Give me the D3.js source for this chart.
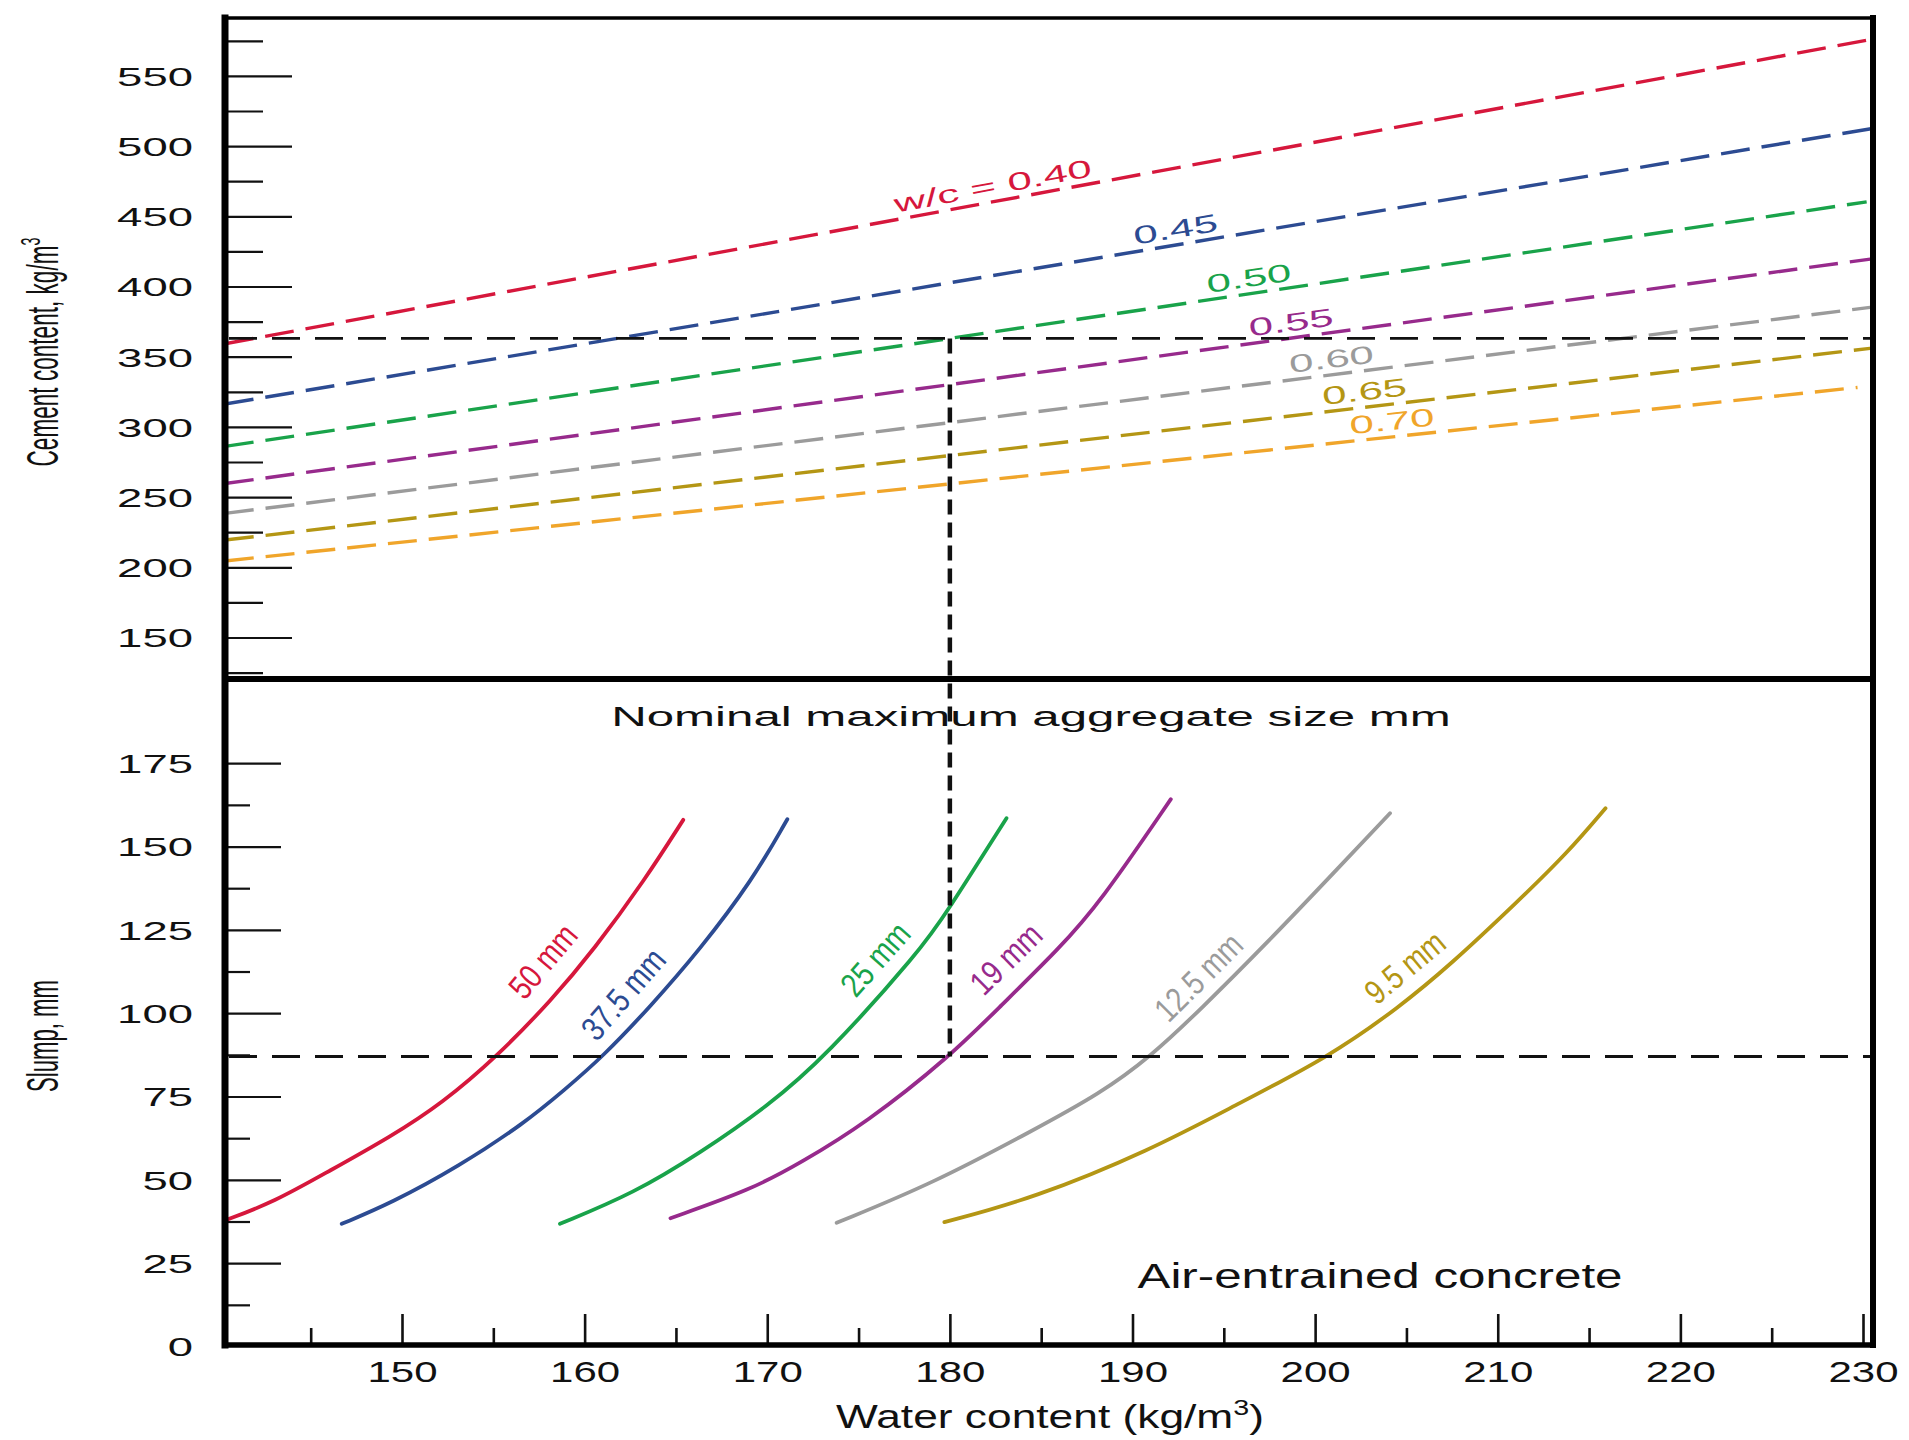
<!DOCTYPE html>
<html>
<head>
<meta charset="utf-8">
<title>Cement content and slump vs water content</title>
<script src="https://cdn.jsdelivr.net/npm/d3@7"></script>
<style>
  html, body { margin: 0; padding: 0; background: #fff; }
  svg { display: block; }
</style>
</head>
<body>
<div id="chart"></div>
<script>
// ---- data ----

// upper panel: w/c ratio lines (cement vs water), read at both ends
const wcLabels = ['w/c = 0.40', '0.45', '0.50', '0.55', '0.60', '0.65', '0.70'];
const wcWaterStart = [140.3, 140.3, 140.3, 140.3, 140.3, 140.3, 140.3];
const wcWaterEnd = [230.5, 230.5, 230.2, 230.5, 230.5, 230.5, 229.7];
const wcCementStart = [359.2, 316.3, 286.1, 259.7, 238.4, 219.4, 204.5];
const wcCementEnd = [576.1, 512.5, 460.3, 419.7, 385.3, 356.1, 328.1];
const wcLabelWater = [182.5, 192.5, 196.5, 198.8, 201.0, 202.8, 204.3];

// lower panel: slump curves per nominal maximum aggregate size
const aggLabels = ['50 mm', '37.5 mm', '25 mm', '19 mm', '12.5 mm', '9.5 mm'];
const water50 = [140.4, 143.0, 145.8, 149.4, 152.2, 155.2, 158.2, 160.5, 163.3, 165.4];
const slump50 = [38.0, 43.4, 52.0, 63.0, 73.0, 87.0, 104.0, 119.0, 140.0, 158.0];
const water375 = [146.7, 149.4, 153.1, 156.7, 158.9, 161.0, 163.6, 166.3, 169.2, 171.1];
const slump375 = [36.8, 43.0, 54.0, 67.0, 77.0, 87.0, 102.0, 119.0, 140.0, 158.2];
const water25 = [158.65, 162.7, 166.3, 170.0, 173.2, 178.4, 179.8, 183.1];
const slump25 = [36.8, 46.0, 58.0, 72.0, 87.0, 119.0, 130.0, 158.5];
const water19 = [164.7, 169.1, 171.8, 175.4, 180.0, 182.75, 186.0, 188.2, 192.1];
const slump19 = [38.5, 47.0, 55.0, 67.0, 87.0, 102.0, 119.5, 133.0, 164.2];
const water125 = [173.8, 179.1, 184.6, 188.2, 191.0, 193.7, 197.35, 201.0, 204.1];
const slump125 = [37.1, 49.0, 65.0, 75.8, 87.0, 101.0, 121.0, 142.0, 160.0];
const water95 = [179.7, 184.6, 191.0, 195.5, 200.8, 204.65, 207.4, 211.0, 213.8, 215.9];
const slump95 = [37.3, 44.5, 59.0, 72.0, 87.0, 102.0, 114.5, 133.0, 148.0, 161.5];
const aggLabelWater = [157.7, 162.1, 175.9, 183.05, 193.6, 204.9];
const aggLabelSlump = [115.7, 105.8, 116.3, 116.4, 110.9, 113.9];

// worked example (dashed black guide lines)
const refWater = 180;
const refCement = 363;
const refSlump = 87;

// ticks
const cementTicks = [150, 200, 250, 300, 350, 400, 450, 500, 550];
const cementMinorTicks = [125, 175, 225, 275, 325, 375, 425, 475, 525, 575];
const slumpTicks = [0, 25, 50, 75, 100, 125, 150, 175];
const slumpMinorTicks = [12.5, 37.5, 62.5, 87.5, 112.5, 137.5, 162.5];
const waterTicks = [150, 160, 170, 180, 190, 200, 210, 220, 230];
const waterMinorTicks = [145, 155, 165, 175, 185, 195, 205, 215, 225];

// ---- styles ----
const wcColors = ['#d6173c', '#2c4b92', '#19a34a', '#972a8c', '#9b9b9b', '#b49614', '#f0a52a'];
const aggColors = ['#d6173c', '#2c4b92', '#19a34a', '#972a8c', '#9b9b9b', '#b49614'];
const FONT = '"Liberation Sans", Arial, Helvetica, sans-serif';
const WIDE = 1.75; // extended look of the numeric labels

const W = 1909, H = 1440;
const frame = { left: 225, right: 1873, top: 18, mid: 679, bottom: 1345 };

const x = d3.scaleLinear().domain([150, 230]).range([402, 1863]);
const yTop = d3.scaleLinear().domain([150, 550]).range([637.5, 75.9]);
const yBot = d3.scaleLinear().domain([0, 175]).range([1346.5, 763.2]);

const svg = d3.select('#chart')
    .append('svg')
    .attr('width', W)
    .attr('height', H)
    .attr('viewBox', [0, 0, W, H]);

svg.append('rect').attr('width', W).attr('height', H).attr('fill', '#fff');

/**
 * Draw an axis, keep only its tick lines
 */
function tickMarks(g, axis, width) {
    g.call(axis);
    g.select('.domain').remove();
    g.selectAll('.tick text').remove();
    g.selectAll('.tick line').attr('stroke', '#111').attr('stroke-width', width);
}

/**
 * Draw an axis, keep only its labels (stretched wide)
 */
function tickLabels(g, axis, size, stretch, dy) {
    g.call(axis);
    g.select('.domain').remove();
    g.selectAll('.tick line').remove();
    g.selectAll('.tick text')
        .attr('font-family', FONT)
        .attr('font-size', size)
        .attr('fill', '#111')
        .attr('dy', dy)
        .attr('transform', `scale(${stretch},1)`);
}

/**
 * Stretch a text node horizontally (in its own frame) to a given width
 */
function stretchTo(text, width) {
    const w = text.node().getBBox().width;
    text.attr('transform', `scale(${width / w},1)`);
}

// ---- ticks ----
tickMarks(svg.append('g').attr('transform', `translate(${frame.left},0)`),
    d3.axisRight(yTop).tickValues(cementTicks).tickSize(67).tickFormat(''), 2.2);
tickMarks(svg.append('g').attr('transform', `translate(${frame.left},0)`),
    d3.axisRight(yTop).tickValues(cementMinorTicks).tickSize(38).tickFormat(''), 2.2);
tickMarks(svg.append('g').attr('transform', `translate(${frame.left},0)`),
    d3.axisRight(yBot).tickValues(slumpTicks.filter(d => d > 0)).tickSize(56).tickFormat(''), 2.2);
tickMarks(svg.append('g').attr('transform', `translate(${frame.left},0)`),
    d3.axisRight(yBot).tickValues(slumpMinorTicks).tickSize(25).tickFormat(''), 2.2);
tickMarks(svg.append('g').attr('transform', `translate(0,${frame.bottom})`),
    d3.axisBottom(x).tickValues(waterTicks).tickSizeInner(-31).tickSizeOuter(0).tickFormat(''), 2.6);
tickMarks(svg.append('g').attr('transform', `translate(0,${frame.bottom})`),
    d3.axisBottom(x).tickValues(waterMinorTicks).tickSizeInner(-17).tickSizeOuter(0).tickFormat(''), 2.6);

// ---- tick labels ----
tickLabels(svg.append('g').attr('transform', 'translate(193,0)'),
    d3.axisLeft(yTop).tickValues(cementTicks).tickSize(0).tickPadding(0), 26, WIDE, '0.36em');
tickLabels(svg.append('g').attr('transform', 'translate(193,0)'),
    d3.axisLeft(yBot).tickValues(slumpTicks).tickSize(0).tickPadding(0), 26, WIDE, '0.36em');
tickLabels(svg.append('g').attr('transform', `translate(0,${frame.bottom})`),
    d3.axisBottom(x).tickValues(waterTicks).tickSize(0).tickPadding(16), 30, 1.4, '0.71em');

// ---- upper panel: w/c lines ----
svg.append('clipPath').attr('id', 'clip-top')
    .append('rect')
    .attr('x', frame.left).attr('y', frame.top)
    .attr('width', frame.right - frame.left).attr('height', frame.mid - frame.top);

const line = d3.line().x(d => x(d[0])).y(d => yTop(d[1]));
const wcG = svg.append('g').attr('clip-path', 'url(#clip-top)');

wcLabels.forEach((label, i) => {
    const pts = [[wcWaterStart[i], wcCementStart[i]], [wcWaterEnd[i], wcCementEnd[i]]];
    wcG.append('path')
        .attr('d', line(pts))
        .attr('fill', 'none')
        .attr('stroke', wcColors[i])
        .attr('stroke-width', 3.4)
        .attr('stroke-dasharray', '29,12');

    // label sits on the line, rotated with it
    const ang = Math.atan2(yTop(pts[1][1]) - yTop(pts[0][1]), x(pts[1][0]) - x(pts[0][0])) * 180 / Math.PI;
    const t = (wcLabelWater[i] - pts[0][0]) / (pts[1][0] - pts[0][0]);
    const c = pts[0][1] + t * (pts[1][1] - pts[0][1]);
    svg.append('g')
        .attr('transform', `translate(${x(wcLabelWater[i])},${yTop(c)}) rotate(${ang})`)
        .append('text')
        .attr('y', -7)
        .attr('text-anchor', 'middle')
        .attr('font-family', FONT)
        .attr('font-size', 25)
        .attr('fill', wcColors[i])
        .attr('transform', `scale(${WIDE},1)`)
        .text(label);
});

// ---- lower panel: slump curves ----
const aggWater = [water50, water375, water25, water19, water125, water95];
const aggSlump = [slump50, slump375, slump25, slump19, slump125, slump95];
const curve = d3.line()
    .x(d => x(d[0]))
    .y(d => yBot(d[1]))
    .curve(d3.curveBasis);

aggLabels.forEach((label, i) => {
    const pts = aggWater[i].map((w, j) => [w, aggSlump[i][j]]);
    svg.append('path')
        .attr('d', curve(pts))
        .attr('fill', 'none')
        .attr('stroke', aggColors[i])
        .attr('stroke-width', 3.8)
        .attr('stroke-linecap', 'round');

    // label angle follows the curve where it passes the label height
    let k = pts.findIndex(p => p[1] >= aggLabelSlump[i]);
    k = Math.max(1, k);
    const ang = Math.atan2(yBot(pts[k][1]) - yBot(pts[k - 1][1]), x(pts[k][0]) - x(pts[k - 1][0])) * 180 / Math.PI;
    svg.append('g')
        .attr('transform', `translate(${x(aggLabelWater[i])},${yBot(aggLabelSlump[i])}) rotate(${ang})`)
        .append('text')
        .attr('dy', '0.36em')
        .attr('text-anchor', 'middle')
        .attr('font-family', FONT)
        .attr('font-size', 34)
        .attr('fill', aggColors[i])
        .attr('transform', 'scale(0.82,1)')
        .text(label);
});

// ---- titles ----
const nominal = svg.append('g').attr('transform', 'translate(1031,726)')
    .append('text')
    .attr('text-anchor', 'middle')
    .attr('font-family', FONT)
    .attr('font-size', 27)
    .attr('fill', '#111')
    .text('Nominal maximum aggregate size mm');
stretchTo(nominal, 840);

const airText = svg.append('g').attr('transform', 'translate(1380,1288)')
    .append('text')
    .attr('text-anchor', 'middle')
    .attr('font-family', FONT)
    .attr('font-size', 35)
    .attr('fill', '#111')
    .text('Air-entrained concrete');
stretchTo(airText, 485);

const xTitle = svg.append('g').attr('transform', 'translate(1050,1428)')
    .append('text')
    .attr('text-anchor', 'middle')
    .attr('font-family', FONT)
    .attr('font-size', 34)
    .attr('fill', '#111');
xTitle.append('tspan').text('Water content (kg/m');
xTitle.append('tspan').attr('dy', -13).attr('font-size', 22).text('3');
xTitle.append('tspan').attr('dy', 13).text(')');
stretchTo(xTitle, 428);

const yTitleTop = svg.append('g').attr('transform', 'translate(58,352) rotate(-90)')
    .append('text')
    .attr('text-anchor', 'middle')
    .attr('font-family', FONT)
    .attr('font-size', 44)
    .attr('fill', '#111');
yTitleTop.append('tspan').text('Cement content, kg/m');
yTitleTop.append('tspan').attr('dy', -18).attr('font-size', 28).text('3');
stretchTo(yTitleTop, 229);

const yTitleBot = svg.append('g').attr('transform', 'translate(58,1036) rotate(-90)')
    .append('text')
    .attr('text-anchor', 'middle')
    .attr('font-family', FONT)
    .attr('font-size', 44)
    .attr('fill', '#111')
    .text('Slump, mm');
stretchTo(yTitleBot, 112);

// ---- worked example guide lines ----
const guide = svg.append('g').attr('stroke', '#111').attr('fill', 'none');
guide.append('line')
    .attr('x1', frame.left + 4).attr('x2', frame.right - 3)
    .attr('y1', yTop(refCement)).attr('y2', yTop(refCement))
    .attr('stroke-width', 2.8).attr('stroke-dasharray', '28,15');
guide.append('line')
    .attr('x1', frame.left + 4).attr('x2', frame.right - 3)
    .attr('y1', yBot(refSlump)).attr('y2', yBot(refSlump))
    .attr('stroke-width', 2.8).attr('stroke-dasharray', '28,15');
guide.append('line')
    .attr('x1', x(refWater)).attr('x2', x(refWater))
    .attr('y1', yTop(refCement)).attr('y2', yBot(refSlump))
    .attr('stroke-width', 4.5).attr('stroke-dasharray', '15,8');

// ---- frame ----
const frameG = svg.append('g').attr('stroke', '#000').attr('stroke-linecap', 'square');
frameG.append('line').attr('x1', frame.left).attr('x2', frame.right)
    .attr('y1', frame.top).attr('y2', frame.top).attr('stroke-width', 3.6);
frameG.append('line').attr('x1', frame.left).attr('x2', frame.right)
    .attr('y1', frame.mid).attr('y2', frame.mid).attr('stroke-width', 6);
frameG.append('line').attr('x1', frame.left).attr('x2', frame.right)
    .attr('y1', frame.bottom).attr('y2', frame.bottom).attr('stroke-width', 5.5);
frameG.append('line').attr('x1', frame.left).attr('x2', frame.left)
    .attr('y1', frame.top).attr('y2', frame.bottom).attr('stroke-width', 7);
frameG.append('line').attr('x1', frame.right).attr('x2', frame.right)
    .attr('y1', frame.top).attr('y2', frame.bottom).attr('stroke-width', 6);
</script>
</body>
</html>
